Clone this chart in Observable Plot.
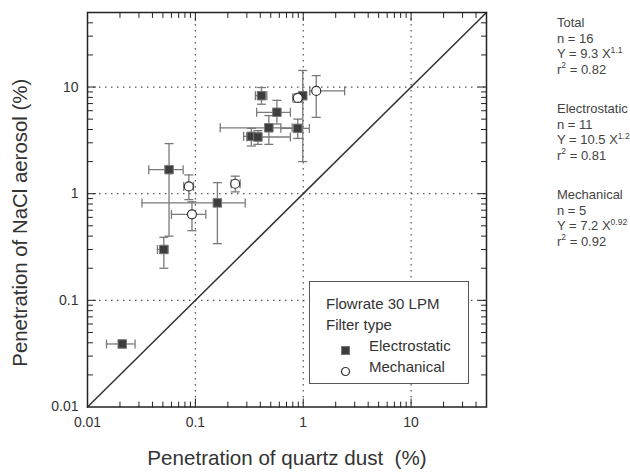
<!DOCTYPE html>
<html>
<head>
<meta charset="utf-8">
<script src="https://cdn.jsdelivr.net/npm/d3@7"></script>
<script src="https://cdn.jsdelivr.net/npm/@observablehq/plot@0.6"></script>
<style>
  body { margin: 0; background: #fff; }
  #chart { position: relative; width: 630px; height: 474px; font-family: Arial, "Liberation Sans", sans-serif; color: #333; }
  #chart svg text { white-space: pre; }
  .legend { position: absolute; left: 309px; top: 281px; width: 158px; height: 101px; border: 1.3px solid #555; background: #fff; font-size: 15px; }
  .legend .row { position: absolute; left: 0; height: 21px; line-height: 21px; white-space: nowrap; }
  .legend .sym { position: absolute; top: 5px; }
  .fit { position: absolute; left: 557px; font-size: 13px; line-height: 15.5px; color: #444; white-space: nowrap; }
  .fit sup { font-size: 8.5px; line-height: 0; vertical-align: baseline; position: relative; top: -5.5px; }
</style>
</head>
<body>
<div id="chart"></div>
<script>
// Penetration of quartz dust vs NaCl aerosol (%), mean with error bars, per filter
const filterType = ["Electrostatic", "Electrostatic", "Electrostatic", "Electrostatic", "Electrostatic", "Electrostatic",
                    "Electrostatic", "Electrostatic", "Electrostatic", "Electrostatic", "Electrostatic",
                    "Mechanical", "Mechanical", "Mechanical", "Mechanical", "Mechanical"];
const quartzDust = [0.41, 0.57, 0.48, 0.89, 0.33, 0.38, 0.99, 0.057, 0.16, 0.051, 0.021, 0.89, 1.32, 0.087, 0.093, 0.234];
const quartzLow  = [0.36, 0.37, 0.17, 0.62, 0.28, 0.30, 0.93, 0.037, 0.032, 0.0445, 0.015, 0.80, 1.15, 0.078, 0.060, 0.215];
const quartzHigh = [0.46, 0.76, 0.79, 1.14, 0.40, 0.76, 1.06, 0.077, 0.29, 0.0555, 0.0276, 0.97, 2.42, 0.096, 0.125, 0.26];
const naclAerosol = [8.3, 5.8, 4.15, 4.1, 3.45, 3.4, 8.3, 1.68, 0.82, 0.30, 0.039, 7.9, 9.2, 1.17, 0.64, 1.24];
const naclLow    = [6.9, 4.5, 2.9, 3.3, 2.8, 2.9, 2.0, 0.40, 0.34, 0.20, 0.036, 7.2, 5.2, 0.88, 0.45, 1.04];
const naclHigh   = [9.9, 7.5, 5.4, 5.0, 4.1, 3.9, 14.3, 2.95, 1.27, 0.39, 0.042, 8.6, 12.8, 1.5, 0.84, 1.46];

// Axes
const axisDomain = [0.01, 50];
const tickValues = [0.01, 0.1, 1, 10];
const tickLabels = ["0.01", "0.1", "1", "10"];
const gridValues = [0.1, 1, 10];
const minorValues = [0.02, 0.03, 0.04, 0.05, 0.06, 0.07, 0.08, 0.09,
                     0.2, 0.3, 0.4, 0.5, 0.6, 0.7, 0.8, 0.9,
                     2, 3, 4, 5, 6, 7, 8, 9, 20, 30, 40];
const xTitle = "Penetration of quartz dust  (%)";
const yTitle = "Penetration of NaCl aerosol (%)";

// Legend
const legendTitle = "Flowrate 30 LPM";
const legendSubtitle = "Filter type";
const legendTypes = ["Electrostatic", "Mechanical"];

// Power-law fits
const fitGroups = ["Total", "Electrostatic", "Mechanical"];
const fitN = [16, 11, 5];
const fitCoef = ["9.3", "10.5", "7.2"];
const fitExp = ["1.1", "1.2", "0.92"];
const fitR2 = ["0.82", "0.81", "0.92"];

const points = filterType.map((type, i) => ({
  type, x: quartzDust[i], xlo: quartzLow[i], xhi: quartzHigh[i],
  y: naclAerosol[i], ylo: naclLow[i], yhi: naclHigh[i]
}));
const electro = points.filter(d => d.type === "Electrostatic");
const mech = points.filter(d => d.type === "Mechanical");

const capH = {draw(ctx, size) { const w = Math.sqrt(size / Math.PI); ctx.moveTo(-w, 0); ctx.lineTo(w, 0); }};
const capV = {draw(ctx, size) { const w = Math.sqrt(size / Math.PI); ctx.moveTo(0, -w); ctx.lineTo(0, w); }};
const tickShape = {draw(ctx, l) { ctx.moveTo(0, 0); ctx.lineTo(0, -l); }};

function frameTicks(values, side, len) {
  const key = side === "bottom" || side === "top" ? "x" : "y";
  return Plot.vector(values, {
    [key]: d => d, frameAnchor: side, length: len, anchor: "start",
    rotate: {bottom: 0, top: 180, left: 90, right: -90}[side],
    shape: tickShape, stroke: "#222", strokeWidth: 1
  });
}

const barColor = "#7a7a7a";
const chart = Plot.plot({
  width: 630, height: 474,
  marginLeft: 87, marginRight: 144, marginTop: 12, marginBottom: 67.5,
  x: {type: "log", domain: axisDomain, axis: null},
  y: {type: "log", domain: axisDomain, axis: null},
  style: {fontFamily: "Arial, 'Liberation Sans', sans-serif", fontSize: "14px", color: "#333", background: "#fff"},
  marks: [
    Plot.ruleX(gridValues, {stroke: "#555", strokeDasharray: "1.5,4.5", strokeWidth: 1.2}),
    Plot.ruleY(gridValues, {stroke: "#555", strokeDasharray: "1.5,4.5", strokeWidth: 1.2}),
    Plot.line(axisDomain, {x: d => d, y: d => d, stroke: "#333", strokeWidth: 1.5}),
    // error bars
    Plot.ruleX(points, {x: "x", y1: "ylo", y2: "yhi", stroke: barColor, strokeWidth: 1.3}),
    Plot.ruleY(points, {y: "y", x1: "xlo", x2: "xhi", stroke: barColor, strokeWidth: 1.3}),
    Plot.dot(points, {x: "x", y: "ylo", symbol: capH, r: 4.5, stroke: barColor, strokeWidth: 1.3, fill: "none"}),
    Plot.dot(points, {x: "x", y: "yhi", symbol: capH, r: 4.5, stroke: barColor, strokeWidth: 1.3, fill: "none"}),
    Plot.dot(points, {x: "xlo", y: "y", symbol: capV, r: 4.5, stroke: barColor, strokeWidth: 1.3, fill: "none"}),
    Plot.dot(points, {x: "xhi", y: "y", symbol: capV, r: 4.5, stroke: barColor, strokeWidth: 1.3, fill: "none"}),
    // points
    Plot.dot(electro, {x: "x", y: "y", symbol: "square", r: 4.8, fill: "#3d3d3d", stroke: "#777", strokeWidth: 1}),
    Plot.dot(mech, {x: "x", y: "y", symbol: "circle", r: 4.5, fill: "#fff", stroke: "#333", strokeWidth: 1.2}),
    // frame and inward ticks
    Plot.frame({stroke: "#222", strokeWidth: 1.5}),
    ...["bottom", "top", "left", "right"].flatMap(side => [
      frameTicks(minorValues, side, 5),
      frameTicks(gridValues, side, 8)
    ]),
    Plot.axisX(tickValues, {tickSize: 0, tickPadding: 10, tickFormat: d => tickLabels[tickValues.indexOf(d)], fontSize: 14, label: null}),
    Plot.axisY(tickValues, {tickSize: 0, tickPadding: 9, tickFormat: d => tickLabels[tickValues.indexOf(d)], fontSize: 14, label: null}),
    Plot.text([xTitle], {frameAnchor: "bottom", dy: 58, fontSize: 20.6, fill: "#333"}),
    Plot.text([yTitle], {frameAnchor: "left", textAnchor: "middle", rotate: -90, dx: -67, dy: 13, fontSize: 20.4, fill: "#333"})
  ]
});

const root = document.getElementById("chart");
root.appendChild(chart);

// legend box
const legend = document.createElement("div");
legend.className = "legend";
const symSvg = type => type === "Electrostatic"
  ? '<svg width="11" height="11"><rect x="1.5" y="1.5" width="8" height="8" fill="#3d3d3d" stroke="#777" stroke-width="1"/></svg>'
  : '<svg width="11" height="11"><circle cx="5.5" cy="5.5" r="4" fill="#fff" stroke="#333" stroke-width="1.2"/></svg>';
let html = `<div class="row" style="top:10.5px;left:16px">${legendTitle}</div>`;
html += `<div class="row" style="top:31.5px;left:16px">${legendSubtitle}</div>`;
legendTypes.forEach((t, i) => {
  const top = 52.5 + i * 21;
  html += `<div class="row" style="top:${top}px;left:30px;width:120px"><span class="sym">${symSvg(t)}</span><span style="position:absolute;left:29px">${t}</span></div>`;
});
legend.innerHTML = html;
root.appendChild(legend);

// fit annotations to the right of the plot
const fitTops = [15.25, 101.25, 187.25];
fitGroups.forEach((g, i) => {
  const div = document.createElement("div");
  div.className = "fit";
  div.style.top = fitTops[i] + "px";
  div.innerHTML = `${g}<br>n = ${fitN[i]}<br>Y = ${fitCoef[i]} X<sup>${fitExp[i]}</sup><br>r<sup>2</sup> = ${fitR2[i]}`;
  root.appendChild(div);
});
</script>
</body>
</html>
